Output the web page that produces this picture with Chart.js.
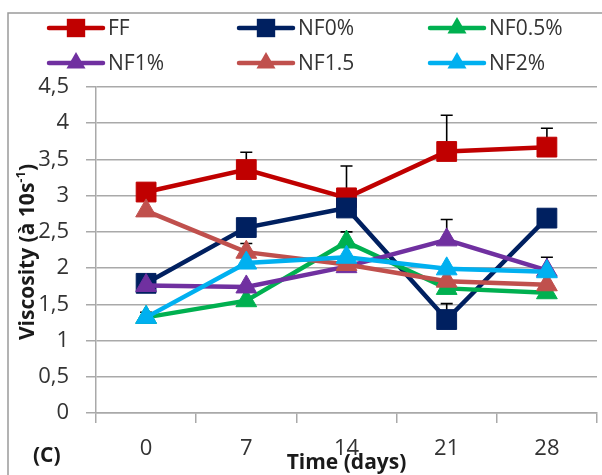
<!DOCTYPE html>
<html>
<head>
<meta charset="utf-8">
<script src="https://cdn.jsdelivr.net/npm/chart.js@4/dist/chart.umd.min.js"></script>
<style>
  html, body { margin: 0; padding: 0; background: #fff; overflow: hidden; }
  #wrap { position: relative; width: 612px; height: 475px; }
</style>
</head>
<body>
<div id="wrap"><canvas id="chart"></canvas></div>
<script>
// storage time points (days)
const days = ['0', '7', '14', '21', '28'];
const yTickLabels = ['0', '0,5', '1', '1,5', '2', '2,5', '3', '3,5', '4', '4,5'];

// viscosity at 10 s-1 for each formulation
const ff     = [3.05, 3.36, 2.97, 3.61, 3.67];
const nf0    = [1.79, 2.56, 2.83, 1.29, 2.69];
const nf05   = [1.32, 1.55, 2.36, 1.72, 1.66];
const nf1    = [1.76, 1.74, 2.02, 2.39, 1.97];
const nf15   = [2.79, 2.22, 2.05, 1.82, 1.77];
const nf2    = [1.32, 2.07, 2.15, 1.99, 1.95];

// upper error bars (0 = none drawn)
const ffErr   = [0, 0.24, 0.44, 0.50, 0.26];
const nf0Err  = [0, 0, 0, 0.22, 0];
const nf05Err = [0, 0, 0.14, 0, 0];
const nf1Err  = [0, 0, 0, 0.28, 0];
const nf15Err = [0, 0.12, 0, 0, 0];
const nf2Err  = [0.07, 0, 0, 0, 0.20];

const FONT = '"Open Sans", "Noto Sans", sans-serif';
const TEXT = '#333333';
const GRID = '#a9a9a9';

function series(label, data, err, color, style, i) {
  return {
    label, data, err,
    borderColor: color,
    backgroundColor: color,
    borderWidth: 4.5,
    pointStyle: style,
    pointRadius: style === 'rect' ? 14 : 12,
    pointHoverRadius: style === 'rect' ? 14 : 12,
    pointBorderWidth: 1,
    tension: 0,
    order: 5 - i
  };
}

const datasets = [
  series('FF',     ff,   ffErr,   '#C00000', 'rect',     0),
  series('NF0%',   nf0,  nf0Err,  '#002060', 'rect',     1),
  series('NF0.5%', nf05, nf05Err, '#00B050', 'triangle', 2),
  series('NF1%',   nf1,  nf1Err,  '#7030A0', 'triangle', 3),
  series('NF1.5',  nf15, nf15Err, '#C0504D', 'triangle', 4),
  series('NF2%',   nf2,  nf2Err,  '#00B0F0', 'triangle', 5)
];

function marker(ctx, style, x, y, r, color) {
  ctx.save();
  ctx.fillStyle = color;
  ctx.beginPath();
  if (style === 'rect') {
    const s = r * Math.SQRT1_2;
    ctx.rect(x - s, y - s, 2 * s, 2 * s);
  } else {
    ctx.moveTo(x, y - r);
    ctx.lineTo(x + r * Math.sin(Math.PI / 3), y + r / 2);
    ctx.lineTo(x - r * Math.sin(Math.PI / 3), y + r / 2);
    ctx.closePath();
  }
  ctx.fill();
  ctx.restore();
}

// error bars, drawn under the lines
const errorBars = {
  id: 'errorBars',
  beforeDatasetsDraw(chart) {
    const { ctx, scales: { x, y } } = chart;
    ctx.save();
    ctx.strokeStyle = '#000';
    ctx.lineWidth = 1.6;
    chart.data.datasets.forEach(ds => {
      ds.data.forEach((v, j) => {
        const e = ds.err[j];
        if (!e) return;
        const px = x.getPixelForValue(j);
        const y0 = y.getPixelForValue(v);
        const y1 = y.getPixelForValue(v + e);
        ctx.beginPath();
        ctx.moveTo(px, y0);
        ctx.lineTo(px, y1);
        ctx.moveTo(px - 6, y1);
        ctx.lineTo(px + 6, y1);
        ctx.stroke();
      });
    });
    ctx.restore();
  }
};

// frame, legend and axis titles
const decorations = {
  id: 'decorations',
  afterDraw(chart) {
    const { ctx, chartArea } = chart;
    ctx.save();

    ctx.strokeStyle = '#9a9a9a';
    ctx.lineWidth = 1.5;
    ctx.strokeRect(8, 13, chart.width + 20, chart.height + 20);

    // legend: 3 columns x 2 rows
    const colX = [49, 239, 430];
    const rowY = [28, 63];
    ctx.font = '21px ' + FONT;
    ctx.textBaseline = 'middle';
    ctx.textAlign = 'left';
    chart.data.datasets.forEach((ds, i) => {
      const x0 = colX[i % 3];
      const yy = rowY[Math.floor(i / 3)];
      ctx.strokeStyle = ds.borderColor;
      ctx.lineWidth = 4.5;
      ctx.lineCap = 'round';
      ctx.beginPath();
      ctx.moveTo(x0, yy);
      ctx.lineTo(x0 + 54, yy);
      ctx.stroke();
      marker(ctx, ds.pointStyle, x0 + 27, yy, ds.pointStyle === 'rect' ? 13 : 11, ds.borderColor);
      ctx.fillStyle = TEXT;
      ctx.fillText(ds.label, x0 + 59, yy + 1);
    });

    // x title and panel letter
    ctx.fillStyle = '#1a1a1a';
    ctx.font = 'bold 21px ' + FONT;
    ctx.textBaseline = 'alphabetic';
    ctx.textAlign = 'center';
    ctx.fillText('Time (days)', (chartArea.left + chartArea.right) / 2, 469);
    ctx.textAlign = 'left';
    ctx.fillText('(C)', 33, 462);

    // y title with superscript
    ctx.translate(34, 252);
    ctx.rotate(-Math.PI / 2);
    const main = 'Viscosity (à 10s';
    const sup = '-1';
    const close = ')';
    ctx.font = 'bold 21px ' + FONT;
    const wMain = ctx.measureText(main).width;
    const wClose = ctx.measureText(close).width;
    ctx.font = 'bold 13px ' + FONT;
    const wSup = ctx.measureText(sup).width;
    let tx = -(wMain + wSup + wClose) / 2;
    ctx.font = 'bold 21px ' + FONT;
    ctx.fillText(main, tx, 0);
    tx += wMain;
    ctx.font = 'bold 13px ' + FONT;
    ctx.fillText(sup, tx, -9);
    tx += wSup;
    ctx.font = 'bold 21px ' + FONT;
    ctx.fillText(close, tx, 0);

    ctx.restore();
  }
};

new Chart(document.getElementById('chart'), {
  type: 'line',
  data: { labels: days, datasets },
  options: {
    responsive: true,
    maintainAspectRatio: false,
    animation: false,
    layout: { padding: { top: 87, left: 0, right: 0, bottom: 0 } },
    plugins: { legend: { display: false }, tooltip: { enabled: false } },
    scales: {
      x: {
        type: 'category',
        offset: true,
        grid: { offset: true, drawOnChartArea: false, drawTicks: true, tickLength: 10, color: GRID, lineWidth: 1.5 },
        border: { color: GRID, width: 1.5 },
        ticks: { color: TEXT, font: { family: FONT, size: 22 }, padding: 13, maxRotation: 0 },
        afterFit: s => { s.height = 62; }
      },
      y: {
        min: 0,
        max: 4.5,
        grid: { color: GRID, lineWidth: 1.5, tickLength: 10 },
        border: { color: GRID, width: 1.5 },
        ticks: {
          stepSize: 0.5,
          color: TEXT,
          font: { family: FONT, size: 22 },
          padding: 17,
          callback: (v, i) => yTickLabels[i]
        },
        afterFit: s => { s.width = 96; }
      }
    }
  },
  plugins: [errorBars, decorations]
});
</script>
</body>
</html>
